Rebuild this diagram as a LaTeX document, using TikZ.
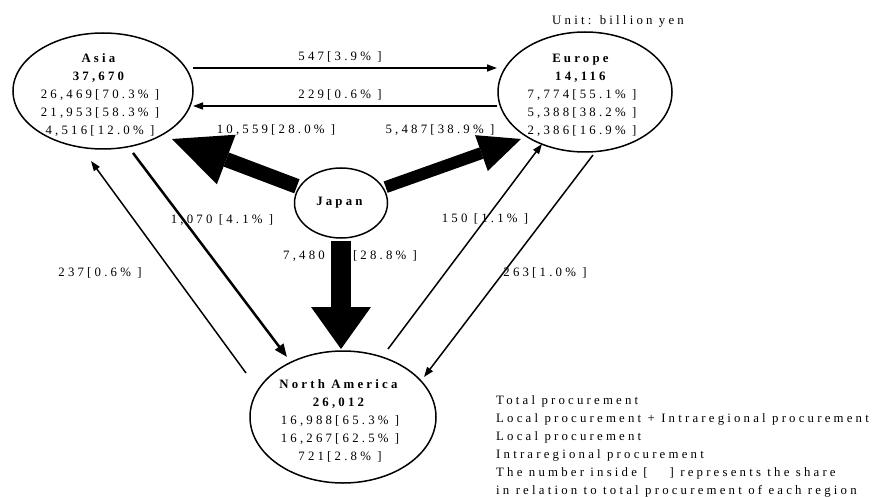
\documentclass[tikz,border=0pt]{standalone}
\usepackage{fontspec}
\setmainfont{Liberation Serif}
\newfontfamily\lsfont{Liberation Serif}[LetterSpace=25]
\usetikzlibrary{shapes.geometric,arrows.meta}
\begin{document}
\begin{tikzpicture}[x=1pt,y=-1pt,
  region/.style={draw, ellipse, line width=1.5pt, inner sep=0pt},
  txt/.style={font=\lsfont\fontsize{12.8}{18}\selectfont, align=center, inner sep=0pt},
  lbl/.style={font=\lsfont\fontsize{12.8}{18}\selectfont, inner sep=0pt},
  legend/.style={font=\lsfont\fontsize{12.8}{18}\selectfont, inner sep=0pt, anchor=base west},
  thinarrow/.style={line width=1.5pt, -{Triangle[length=10pt,width=7pt]}},
  bigarrow/.style n args={3}{line width=#1, -{Triangle[length=#2,width=#3,line width=0pt]}, shorten <=2pt},
]
\useasboundingbox (0,0) rectangle (874,497);

% regions
\node[region, minimum width=180pt, minimum height=116pt] (asia) at (103,91) {};
\node[region, minimum width=174pt, minimum height=120pt] (europe) at (585,92) {};
\node[region, minimum width=93pt, minimum height=70pt] (japan) at (341,203) {};
\node[region, minimum width=186pt, minimum height=132pt] (na) at (343,417) {};

\node[txt] (asiatxt) at (100,95) {\textbf{Asia}\\\textbf{37,670}\\26,469[70.3\% ]\\21,953[58.3\% ]\\4,516[12.0\% ]};
\node[txt] (europetxt) at (582,95) {\textbf{Europe}\\\textbf{14,116}\\7,774[55.1\% ]\\5,388[38.2\% ]\\2,386[16.9\% ]};
\node[txt] (japantxt) at (341,203) {\textbf{Japan}};
\node[txt] (natxt) at (340,421) {\textbf{North America}\\\textbf{26,012}\\16,988[65.3\% ]\\16,267[62.5\% ]\\721[2.8\% ]};

\node[lbl] (unit) at (618,21) {Unit: billion yen};

% connector end points
\coordinate (tipA) at (172,139);
\coordinate (tipE) at (521,139);
\coordinate (tipN) at (341,349);
\coordinate (ae1) at (193,68);  \coordinate (ae2) at (497,68);
\coordinate (ea1) at (497,106); \coordinate (ea2) at (193,106);
\coordinate (an1) at (133,153); \coordinate (an2) at (287,357);
\coordinate (na1) at (246,373); \coordinate (na2) at (91,161);
\coordinate (ne1) at (388,349); \coordinate (ne2) at (542,144);
\coordinate (en1) at (593,155); \coordinate (en2) at (424,377);

% thick arrows from Japan
\draw[bigarrow={15pt}{58pt}{53pt}] (japan) -- (tipA);
\draw[bigarrow={12pt}{42pt}{38pt}] (japan) -- (tipE);
\draw[bigarrow={20pt}{42pt}{60pt}] (japan) -- (tipN);

% thin arrows
\draw[thinarrow] (ae1) -- (ae2);
\draw[thinarrow] (ea1) -- (ea2);
\draw[thinarrow, line width=2.5pt, -{Triangle[length=13pt,width=10pt]}] (an1) -- (an2);
\draw[thinarrow] (na1) -- (na2);
\draw[thinarrow] (ne1) -- (ne2);
\draw[thinarrow] (en1) -- (en2);

% flow labels
\node[lbl] (l547) at (340,57) {547[3.9\% ]};
\node[lbl] (l229) at (340,95) {229[0.6\% ]};
\node[lbl] (l10559) at (276,130) {10,559[28.0\% ]};
\node[lbl] (l5487) at (440,130) {5,487[38.9\% ]};
\node[lbl] (l1070) at (222,220) {1,070 [4.1\% ]};
\node[lbl] (l150) at (485,219) {150 [1.1\% ]};
\node[lbl] (l7480) at (304,256) {7,480};
\node[lbl] (l288) at (385,256) {[28.8\% ]};
\node[lbl] (l237) at (100,273) {237[0.6\% ]};
\node[lbl] (l263) at (545,273) {263[1.0\% ]};

% legend
\node[legend] (lg1) at (496,404) {Total procurement};
\node[legend] (lg2) at (496,422) {Local procurement + Intraregional procurement};
\node[legend] (lg3) at (496,440) {Local procurement};
\node[legend] (lg4) at (496,458) {Intraregional procurement};
\node[legend] (lg5) at (496,476) {The number inside [\hspace{22pt}] represents the share};
\node[legend] (lg6) at (496,494) {in relation to total procurement of each region};
\end{tikzpicture}
\end{document}
